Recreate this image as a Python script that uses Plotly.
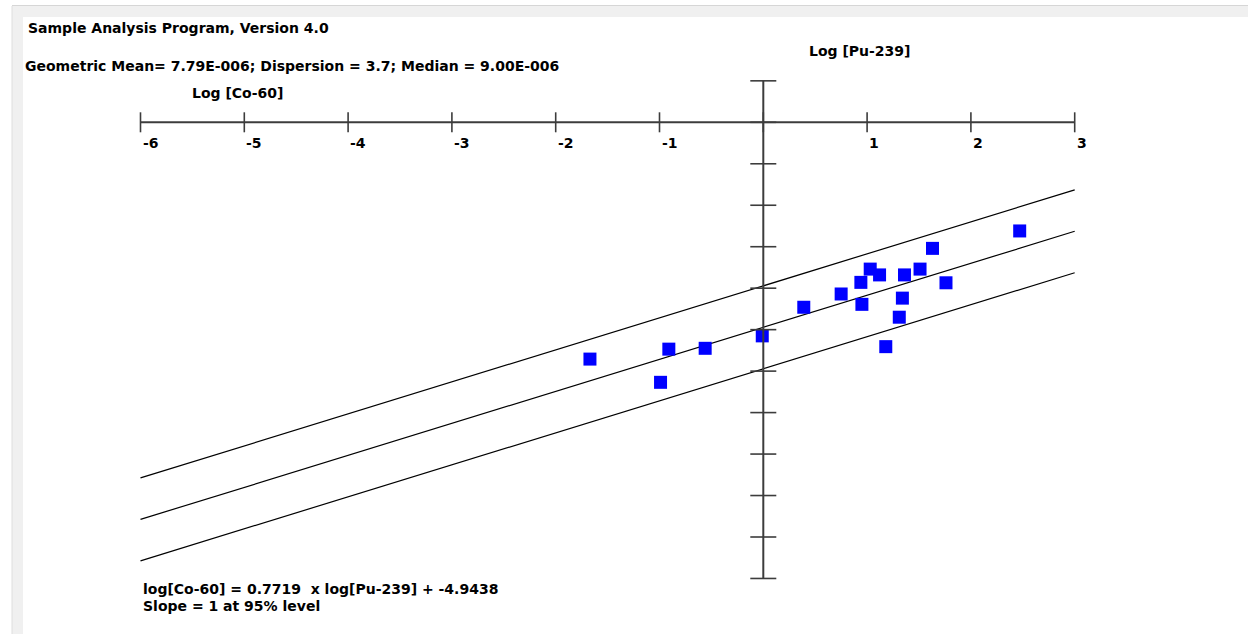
import plotly.graph_objects as go

# Log-log scatter of Co-60 versus Pu-239 with fitted regression and band lines
pu239_log = [-1.67, -0.99, -0.91, -0.56, -0.01, 0.39, 0.75, 0.94, 0.95, 1.03,
             1.12, 1.18, 1.31, 1.34, 1.36, 1.51, 1.63, 1.76, 2.47]
co60_log = [-5.71, -6.27, -5.47, -5.45, -5.15, -4.46, -4.14, -3.86, -4.39, -3.54,
            -3.68, -5.41, -4.70, -4.24, -3.68, -3.54, -3.04, -3.87, -2.62]

fit_slope = 0.7719
fit_intercept = -4.9438
band_offsets = [1.0, 0.0, -1.0]
fit_x = [-6, 3]

x_ticks = [-6, -5, -4, -3, -2, -1, 0, 1, 2, 3]
y_ticks = [1, 0, -1, -2, -3, -4, -5, -6, -7, -8, -9, -10, -11]

W, H = 1248, 634
FONT = dict(family="DejaVu Sans", size=14, color="#000000", weight="bold")
AXIS_COLOR = "#3c3c3c"


def px(x):
    return x / W


def py(y):
    return 1 - y / H


fig = go.Figure()

# regression line and its upper/lower bands
for off in band_offsets:
    fig.add_trace(go.Scatter(
        x=fit_x,
        y=[fit_slope * v + fit_intercept + off for v in fit_x],
        mode="lines",
        line=dict(color="#000000", width=1.2),
        hoverinfo="skip",
        showlegend=False,
    ))

fig.add_trace(go.Scatter(
    x=pu239_log, y=co60_log,
    mode="markers",
    marker=dict(symbol="square", size=13, color="#0000ff", line=dict(width=0)),
    showlegend=False,
))

shapes = []
# window frame: left strip and top band
shapes.append(dict(type="rect", xref="paper", yref="paper",
                   x0=px(12), x1=px(23), y0=py(634), y1=py(6),
                   fillcolor="#f0f0f0", line=dict(width=0), layer="below"))
shapes.append(dict(type="rect", xref="paper", yref="paper",
                   x0=px(12), x1=px(W), y0=py(17), y1=py(6),
                   fillcolor="#f0f0f0", line=dict(width=0), layer="below"))
shapes.append(dict(type="line", xref="paper", yref="paper",
                   x0=px(12), x1=px(W), y0=py(5.5), y1=py(5.5),
                   line=dict(color="#d6d6d6", width=1)))
shapes.append(dict(type="line", xref="paper", yref="paper",
                   x0=px(12), x1=px(12), y0=py(634), y1=py(6),
                   line=dict(color="#dedede", width=1)))

# crossing axes
shapes.append(dict(type="line", xref="x", yref="y",
                   x0=x_ticks[0], x1=x_ticks[-1], y0=0, y1=0,
                   line=dict(color=AXIS_COLOR, width=2)))
shapes.append(dict(type="line", xref="x", yref="y",
                   x0=0, x1=0, y0=y_ticks[0], y1=y_ticks[-1],
                   line=dict(color=AXIS_COLOR, width=2)))
for t in x_ticks:
    shapes.append(dict(type="line", xref="x", yref="y",
                       ysizemode="pixel", yanchor=0, y0=-10, y1=10,
                       x0=t, x1=t, line=dict(color=AXIS_COLOR, width=1.6)))
for t in y_ticks:
    shapes.append(dict(type="line", xref="x", yref="y",
                       xsizemode="pixel", xanchor=0, x0=-13, x1=13,
                       y0=t, y1=t, line=dict(color=AXIS_COLOR, width=1.6)))

annotations = []
for t in x_ticks:
    if t == 0:
        continue
    annotations.append(dict(x=t, y=0, xref="x", yref="y", text=str(t),
                            showarrow=False, xanchor="left", yanchor="middle",
                            xshift=0, yshift=-21, font=FONT))


def label(text, x, y, anchor="left"):
    annotations.append(dict(x=px(x), y=py(y), xref="paper", yref="paper",
                            text=text, showarrow=False, xanchor=anchor,
                            yanchor="middle", font=FONT))


label("Sample Analysis Program, Version 4.0", 26, 28)
label("Geometric Mean= 7.79E-006; Dispersion = 3.7; Median = 9.00E-006", 23, 66)
label("Log [Co-60]", 190, 93)
label("Log [Pu-239]", 807, 51)
label("log[Co-60] = 0.7719  x log[Pu-239] + -4.9438", 141, 589)
label("Slope = 1 at 95% level", 141, 606)

x_px0, x_scale = 763.3, 103.8
y_px0, y_scale = 122.3, 41.47

fig.update_layout(
    width=W, height=H,
    margin=dict(l=0, r=0, t=0, b=0),
    paper_bgcolor="#ffffff",
    plot_bgcolor="rgba(0,0,0,0)",
    xaxis=dict(range=[-x_px0 / x_scale, (W - x_px0) / x_scale],
               visible=False, fixedrange=True),
    yaxis=dict(range=[-(H - y_px0) / y_scale, y_px0 / y_scale],
               visible=False, fixedrange=True),
    shapes=shapes,
    annotations=annotations,
    showlegend=False,
)

fig.write_html("out.html", config={"displayModeBar": False})
